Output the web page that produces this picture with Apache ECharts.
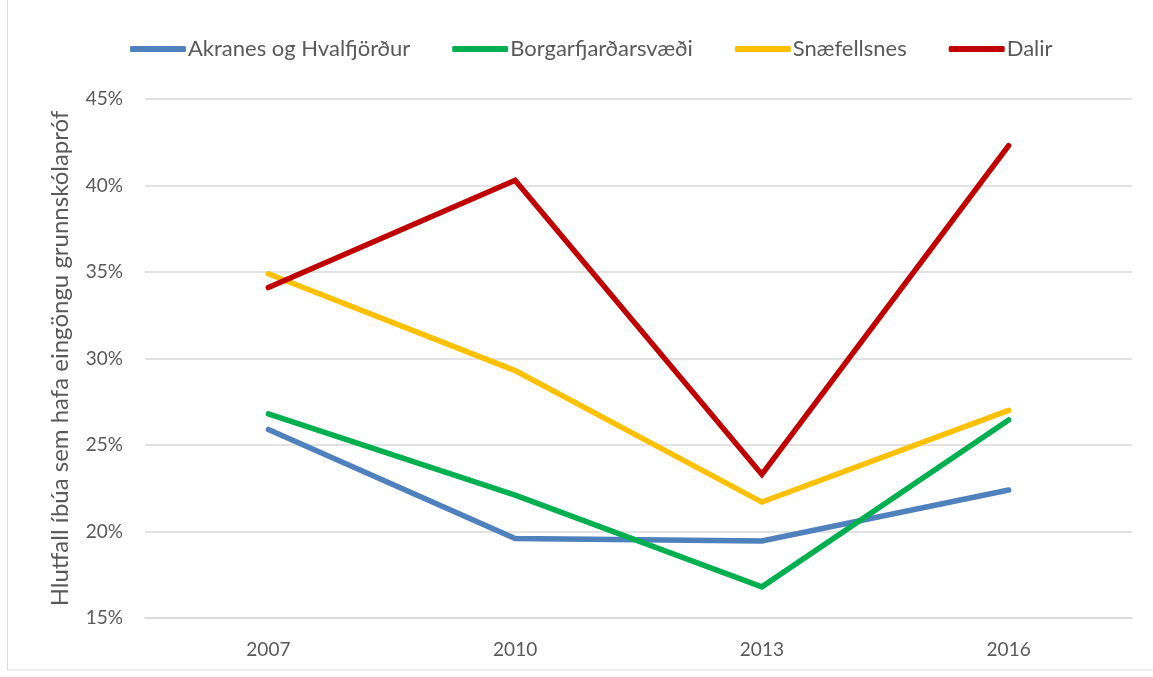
<!DOCTYPE html>
<html><head><meta charset="utf-8">
<script src="https://cdn.jsdelivr.net/npm/echarts@6/dist/echarts.min.js"></script>
<style>html,body{margin:0;padding:0;background:#fff}#c{width:1153px;height:677px}</style>
</head><body><div id="c"></div>
<script>
const years = ['2007','2010','2013','2016'];
const akranes = [25.9, 19.6, 19.45, 22.4];
const borgar = [26.8, 22.1, 16.8, 26.45];
const snae = [34.9, 29.3, 21.7, 27.0];
const dalir = [34.1, 40.3, 23.3, 42.3];
const names = ['Akranes og Hvalfjörður','Borgarfjarðarsvæði','Snæfellsnes','Dalir'];
const colors = ['#4f81bd','#00b050','#ffc000','#c00000'];
const font = 'Lato, "Open Sans", sans-serif';
const chart = echarts.init(document.getElementById('c'));
const mk = (i, d) => ({name: names[i], type:'line', data:d, symbol:'none', lineStyle:{width:5.5, color:colors[i], cap:'round', join:'miter'}, itemStyle:{color:colors[i]}});
chart.setOption({
  animation:false,
  graphic:[{type:'rect', shape:{x:7.5,y:-2,width:1150,height:672}, style:{fill:'none', stroke:'#d9d9d9', lineWidth:1}}],
  legend:{top:33, left:125, itemGap:42, itemWidth:56, itemHeight:6, icon:'roundRect',
    textStyle:{fontFamily:font, fontSize:22, color:'#595959', padding:[0,0,0,-3]}, data:names},
  grid:{left:145, right:21, top:99, bottom:59},
  xAxis:{type:'category', data:years, boundaryGap:true, axisLine:{lineStyle:{color:'#d9d9d9', width:1.5}}, axisTick:{show:false},
    axisLabel:{fontFamily:font, fontSize:19, color:'#595959', margin:22}},
  yAxis:{type:'value', min:15, max:45, interval:5, name:'Hlutfall íbúa sem hafa eingöngu grunnskólapróf', nameLocation:'middle', nameGap:73,
    nameTextStyle:{fontFamily:font, fontSize:24, color:'#595959'},
    axisLabel:{formatter:'{value}%', fontFamily:font, fontSize:19, color:'#595959', margin:22},
    splitLine:{lineStyle:{color:'#d9d9d9', width:1.5}}, axisLine:{show:false}, axisTick:{show:false}},
  series:[mk(0,akranes), mk(1,borgar), mk(2,snae), mk(3,dalir)]
});
</script></body></html>
